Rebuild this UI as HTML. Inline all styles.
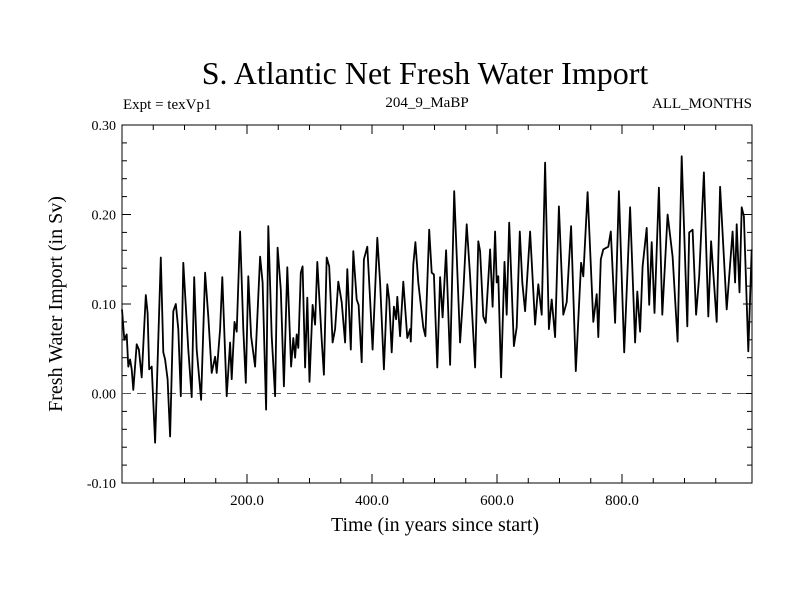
<!DOCTYPE html>
<html><head><meta charset="utf-8"><style>
body{margin:0;background:#fff;}
svg{display:block;font-family:"Liberation Serif",serif;}
</style></head><body>
<svg id="chart" width="800" height="600">
<text x="425" y="84" font-size="32" text-anchor="middle">S. Atlantic Net Fresh Water Import</text>
<text x="123" y="109" font-size="15">Expt = texVp1</text>
<text x="427" y="107" font-size="15" text-anchor="middle">204_9_MaBP</text>
<text x="752" y="108" font-size="15" text-anchor="end">ALL_MONTHS</text>
<text x="435" y="531" font-size="20" text-anchor="middle">Time (in years since start)</text>
<text transform="translate(62,304) rotate(-90)" font-size="20" text-anchor="middle">Fresh Water Import (in Sv)</text>
<g id="axes"></g>
<g id="series"></g>
</svg>
<script>
const xTickLabels=[200,400,600,800];
const yTickLabels=[0.30,0.20,0.10,0.00,-0.10];
const years=[0,3.7,7.5,10,13,15.5,18,23.5,27,31.5,38,41,43.5,47.5,53,57,62,66,69,73,77,82,86,90,94,98,106,111.5,115.5,119.5,126.5,133,138,143.5,149,151.5,157,160.5,167.5,173,175.5,180,183.5,189,194,198,202,206.5,213,221,225,230.5,234,239.5,245,249,254,259,264.5,270.5,274,277,279.5,282,286,289,293,296.5,300,305,309,312.5,319.5,323,327.5,331.5,337,341,346,351.5,357,360.5,366,370,375.5,378.5,383.5,387,392.5,397,401,408.5,413,419,424.5,427.5,431.5,435,438.5,440.5,445,450,456.5,461,462,466,469.5,474,482,485.5,491.5,495.5,499,504.5,509,513,518.5,525,531.5,541,546,551.5,557,565,570,573,578,582,589,593,597,599.5,602,606.5,612,615.5,619.5,627,631.5,636.5,640.5,645,653,661,666,671.5,677,683,687.5,693,699,706,711.5,718.5,726,734.5,738,745,754,759.5,762,766,770,778,782,789,795,803.5,813,821,824.5,829,833,839.5,843.5,847.5,852,859,864.5,873,881,889,895.5,904.5,907.5,913,918.5,923.5,931,938,942.5,951.5,957,967.5,977,981,983.5,988,991.5,995,1002,1007.5];
const values=[0.094,0.060,0.066,0.030,0.038,0.027,0.004,0.055,0.049,0.018,0.110,0.090,0.027,0.030,-0.055,0.035,0.152,0.046,0.038,0.016,-0.048,0.092,0.100,0.072,-0.003,0.146,0.049,-0.004,0.130,0.049,-0.007,0.135,0.086,0.023,0.041,0.023,0.072,0.130,-0.003,0.057,0.016,0.080,0.069,0.181,0.072,0.012,0.131,0.064,0.030,0.153,0.124,-0.018,0.187,0.064,-0.003,0.163,0.116,0.008,0.141,0.030,0.062,0.040,0.066,0.051,0.135,0.142,0.029,0.107,0.013,0.099,0.077,0.147,0.060,0.021,0.152,0.142,0.057,0.072,0.125,0.102,0.057,0.139,0.049,0.159,0.105,0.099,0.035,0.150,0.164,0.105,0.049,0.174,0.124,0.027,0.122,0.105,0.046,0.097,0.083,0.108,0.064,0.125,0.062,0.072,0.058,0.144,0.169,0.124,0.074,0.064,0.183,0.135,0.133,0.029,0.130,0.085,0.160,0.032,0.226,0.057,0.113,0.189,0.131,0.029,0.170,0.159,0.086,0.079,0.161,0.097,0.181,0.124,0.131,0.018,0.147,0.088,0.191,0.053,0.074,0.181,0.124,0.092,0.181,0.077,0.122,0.088,0.258,0.072,0.105,0.063,0.209,0.088,0.102,0.187,0.025,0.146,0.131,0.225,0.080,0.111,0.063,0.150,0.161,0.164,0.181,0.079,0.226,0.046,0.208,0.057,0.114,0.069,0.142,0.185,0.099,0.169,0.090,0.230,0.088,0.200,0.153,0.058,0.265,0.075,0.180,0.183,0.088,0.131,0.247,0.086,0.170,0.080,0.231,0.094,0.181,0.124,0.189,0.113,0.208,0.198,0.047,0.161];
const NS='http://www.w3.org/2000/svg';
const L=122,R=752,T=125,B=483,XMAX=1008,YMIN=-0.1,YMAX=0.3;
function sx(v){return L+(v/XMAX)*(R-L);}
function sy(v){return B-(v-YMIN)/(YMAX-YMIN)*(B-T);}
function mk(tag,attrs,parent){const e=document.createElementNS(NS,tag);for(const k in attrs)e.setAttribute(k,attrs[k]);parent.appendChild(e);return e;}
const ax=document.getElementById('axes');
const frame=mk('rect',{x:L,y:T,width:R-L,height:B-T,fill:'none',stroke:'#000','stroke-width':1},ax);


for(let t=50;t<XMAX-10;t+=50){const len=(t%200===0)?9:5;
 const a=mk('line',{x1:sx(t),x2:sx(t),y1:B,y2:B-len,stroke:'#000'},ax);
 
 
 const b=mk('line',{x1:sx(t),x2:sx(t),y1:T,y2:T+len,stroke:'#000'},ax);
 
 }
for(let i=1;i<20;i++){const v=YMIN+i*0.02;const major=(i%5===0);const len=major?9:5;
 const a=mk('line',{x1:L,x2:L+len,y1:sy(v),y2:sy(v),stroke:'#000'},ax);
 
 
 const b=mk('line',{x1:R,x2:R-len,y1:sy(v),y2:sy(v),stroke:'#000'},ax);
 
 }
xTickLabels.forEach(v=>{const t=mk('text',{x:sx(v),y:B+22,'font-size':15,'text-anchor':'middle'},ax);t.textContent=v.toFixed(1);
 
 });
yTickLabels.forEach(v=>{const t=mk('text',{x:L-6,y:sy(v)+5,'font-size':14,'text-anchor':'end'},ax);t.textContent=v.toFixed(2);
 
 });
const z=mk('line',{x1:L,x2:R,y1:sy(0),y2:sy(0),stroke:'#555','stroke-dasharray':'9,6'},ax);


const pts=years.map((y,i)=>sx(y).toFixed(1)+','+sy(values[i]).toFixed(1)).join(' ');
const line=mk('polyline',{points:pts,fill:'none',stroke:'#000','stroke-width':1.8,'stroke-linejoin':'round'},document.getElementById('series'));


</script>
</body></html>
